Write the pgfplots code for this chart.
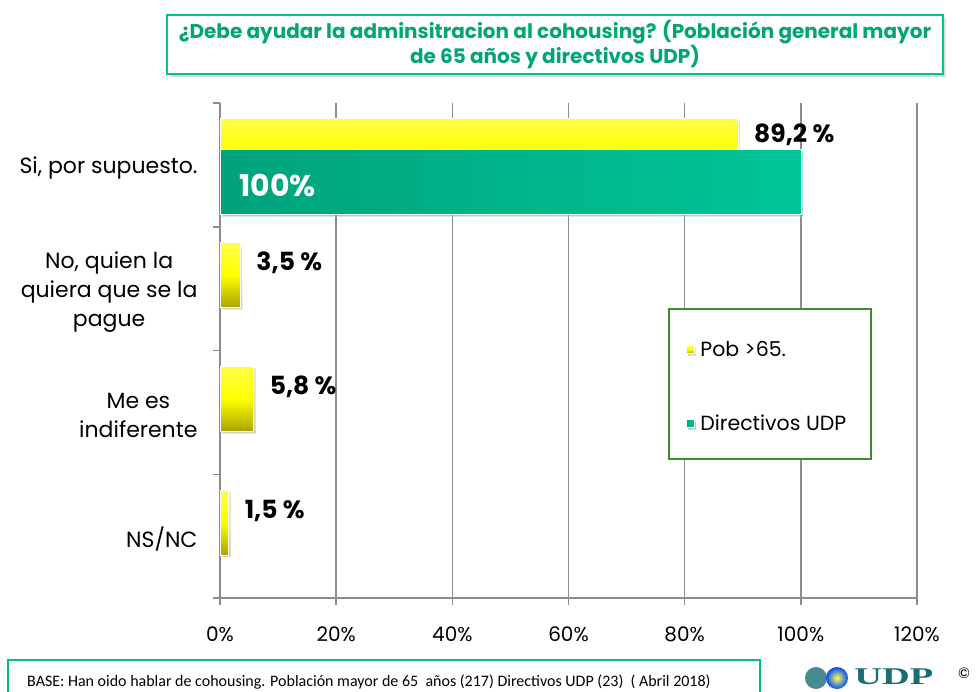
\documentclass[border=0pt]{standalone}
\usepackage{fontspec}
\setmainfont{Poppins}
\newfontfamily\calibri{Carlito}
\newfontfamily\logofont{Liberation Serif}
\usepackage{pgfplots}
\pgfplotsset{compat=1.18}
\usetikzlibrary{shadows}

\definecolor{axgray}{HTML}{8C8C8C}
\definecolor{ytop}{HTML}{FFFF4A}
\definecolor{ymid}{HTML}{FFFF00}
\definecolor{ybot}{HTML}{ABA300}
\definecolor{gleft}{HTML}{00A27B}
\definecolor{gright}{HTML}{00C697}
\definecolor{titlegreen}{HTML}{00A676}
\definecolor{titlebox}{HTML}{00C48E}
\definecolor{legendgreen}{HTML}{3F8A2A}
\definecolor{footgreen}{HTML}{00C07C}
\definecolor{udpteal}{HTML}{1A6E72}

\pgfplotsset{
  yellowbar/.style={bar shift=0.11, draw=white, line width=0.6pt,
    top color=ytop, bottom color=ybot, middle color=ymid,
    drop shadow={opacity=0.25, shadow xshift=2pt, shadow yshift=-2pt},
    nodes near coords,
    every node near coord/.append style={anchor=west, xshift=12.5pt, yshift=#1,
      text=black, font=\bfseries\fontsize{25}{25}\selectfont}},
  yellowbar/.default=12pt,
}

\begin{document}
\begin{tikzpicture}[x=1pt,y=1pt]
\useasboundingbox (0,0) rectangle (979,691);

% title box
\node[draw=titlebox, line width=2pt, fill=white,
      drop shadow={opacity=0.25, shadow xshift=3pt, shadow yshift=-3pt},
      minimum width=776pt, minimum height=59pt, inner sep=0pt, align=center,
      text=titlegreen, font=\bfseries\fontsize{20}{25}\selectfont]
  at (555,646.5) {¿Debe ayudar la adminsitracion al cohousing? (Población general mayor\\de 65 años y directivos UDP)};

\begin{axis}[
  at={(220pt,93pt)}, anchor=south west, scale only axis,
  width=697pt, height=495pt,
  xmin=0, xmax=120, ymin=-0.5, ymax=3.5,
  xbar, bar width=0.525,
  axis x line*=bottom, axis y line*=left,
  axis line style={draw=axgray, line width=1.5pt, -},
  tick align=outside, major tick length=7pt,
  xtick={0,20,40,60,80,100,120},
  xticklabels={0\%,20\%,40\%,60\%,80\%,100\%,120\%},
  x tick style={draw=axgray, line width=1.5pt},
  xmajorgrids, grid style={draw=axgray, line width=1.5pt},
  xticklabel style={font=\fontsize{20}{20}\selectfont, yshift=-18pt},
  ytick={0,1,2,3},
  yticklabels={NS/NC,{Me es\\indiferente},{No, quien la\\quiera que se la\\pague},{Si, por supuesto.}},
  y tick style={draw=none},
  yticklabel style={font=\fontsize{22}{29}\selectfont, align=center, xshift=-12pt, yshift=-3pt},
  extra y ticks={-0.5,0.5,1.5,2.5,3.5},
  extra y tick labels={},
  extra y tick style={y tick style={draw=axgray, line width=1.5pt}},
  point meta=explicit symbolic,
  legend style={at={(rel axis cs:0.668,0.523)}, anchor=north west,
    draw=none, fill=none, inner sep=0pt, row sep=53pt,
    font=\fontsize{20.5}{20.5}\selectfont},
  legend cell align=left,
  legend image code/.code={\fill[#1] (0pt,-4pt) rectangle (8pt,4pt); \path (12pt,0pt);},
]
% legend frame (white, covers the grid)
\draw[fill=white, draw=legendgreen, line width=1.5pt]
  (rel axis cs:0.6442,0.5838) rectangle (rel axis cs:0.934,0.2808);

\addplot[yellowbar=16pt] coordinates {(89.2,3) [89,2 \%]};
\addlegendentry{Pob >65.}

\addplot[bar shift=-0.135, draw=white, line width=0.6pt,
  left color=gleft, right color=gright,
  drop shadow={opacity=0.25, shadow xshift=2pt, shadow yshift=-2pt},
  nodes near coords,
  every node near coord/.append style={anchor=west, xshift=-565pt, yshift=-4pt,
    text=white, font=\bfseries\fontsize{30}{30}\selectfont}]
  coordinates {(100,3) [100\%]};
\addlegendentry{Directivos UDP}

\addplot[yellowbar, forget plot] coordinates {(3.5,2) [3,5 \%]};
\addplot[yellowbar, forget plot] coordinates {(5.8,1) [5,8 \%]};
\addplot[yellowbar, forget plot] coordinates {(1.5,0) [1,5 \%]};
\end{axis}

% footer
\draw[footgreen, line width=1.5pt] (8,-5) -- (8,31) -- (760,31) -- (760,-5);
\node[anchor=base west, inner sep=0pt, font=\calibri\fontsize{16}{16}\selectfont]
  at (27,5) {BASE: Han oido hablar de cohousing. Población mayor de 65~ años (217) Directivos UDP (23)~ ( Abril 2018)};

% logo
\fill[udpteal!80] (816,13) circle (11);
\shade[inner color=yellow!70!white, outer color=blue!70!cyan] (837,13) circle (11);
\node[anchor=base west, inner sep=0pt, text=udpteal, xscale=1.6,
      font=\logofont\bfseries\fontsize{24}{24}\selectfont]
  at (854,7) {UDP};
\node[anchor=center, inner sep=0pt, font=\fontsize{15}{15}\selectfont] at (964,18) {©};
\end{tikzpicture}
\end{document}
